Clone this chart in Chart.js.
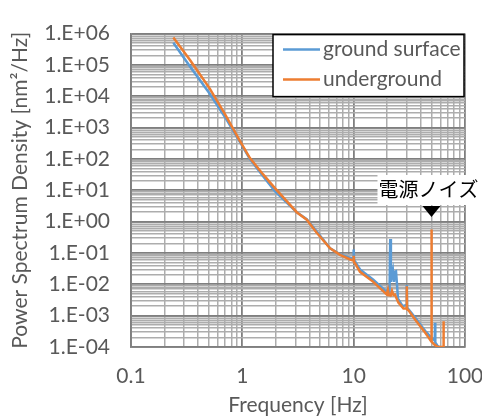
<!DOCTYPE html>
<html>
<head>
<meta charset="utf-8">
<script src="https://cdn.jsdelivr.net/npm/chart.js@4.4.1/dist/chart.umd.min.js"></script>
<style>
html,body{margin:0;padding:0;background:#ffffff;}
#wrap{width:482px;height:418px;position:relative;}
</style>
</head>
<body>
<div id="wrap"><canvas id="c" width="482" height="418"></canvas></div>
<script>
// ---- data ----
const seriesNames = ['ground surface', 'underground'];
const seriesColors = ['#5B9BD5', '#ED7D31'];

const freqGround = [0.24, 0.34, 0.51, 0.70, 0.95, 1.17, 1.53, 1.97, 3.08, 3.79, 4.66, 6.14, 7.55, 9.3, 9.9, 10.0, 10.1, 10.3, 11.4, 15.0, 19.8, 20.5, 21.0, 21.3, 21.6, 22.0, 22.5, 23.0, 23.5, 24.0, 24.5, 25.0, 26.0, 27.5, 29.8, 30.0, 30.2, 32.0, 35.6, 40.0, 43.8, 48.0, 50.0, 53.5, 53.8, 54.1, 56.5, 59.0];
const psdGround  = [5.1e5, 8.7e4, 1.2e4, 2150, 350, 100, 28.5, 9.3, 2.0, 1.2, 0.48, 0.142, 0.09, 0.07, 0.065, 0.13, 0.056, 0.054, 0.030, 0.014, 0.0057, 0.0075, 0.006, 0.28, 0.012, 0.02, 0.029, 0.012, 0.025, 0.026, 0.01, 0.0035, 0.0028, 0.002, 0.0022, 0.0095, 0.0018, 0.0014, 8.7e-4, 5.0e-4, 3.3e-4, 2.3e-4, 2.0e-4, 1.6e-4, 5.9e-4, 1.4e-4, 1.1e-4, 1.0e-4];

const freqUnder = [0.24, 0.34, 0.51, 0.70, 0.95, 1.17, 1.53, 1.97, 3.08, 3.79, 4.66, 6.14, 7.55, 9.3, 9.9, 10.0, 10.1, 10.3, 11.4, 15.0, 19.8, 20.3, 20.7, 21.5, 22.1, 22.8, 23.5, 25.2, 28.0, 29.8, 30.0, 30.2, 31.0, 35.6, 43.8, 46.6, 49.8, 50.0, 50.2, 53.0, 57.0, 63.5, 64.0, 64.5];
const psdUnder  = [7.5e5, 1.42e5, 1.75e4, 2650, 377, 107, 32.7, 11.5, 2.0, 1.15, 0.44, 0.142, 0.087, 0.062, 0.058, 0.081, 0.05, 0.047, 0.025, 0.012, 0.0048, 0.0067, 0.0045, 0.0044, 0.0062, 0.0045, 0.0047, 0.0026, 0.0017, 0.0017, 0.0087, 0.0016, 0.0015, 7.6e-4, 2.9e-4, 2.1e-4, 1.5e-4, 0.56, 1.5e-4, 1.2e-4, 1.0e-4, 1.0e-4, 6.6e-4, 1.0e-4];

const xDecades = [0.1, 1, 10, 100];
const xTickLabels = ['0.1', '1', '10', '100'];
const yDecades = [1e-4, 1e-3, 1e-2, 1e-1, 1e0, 1e1, 1e2, 1e3, 1e4, 1e5, 1e6];
const yTickLabels = ['1.E-04', '1.E-03', '1.E-02', '1.E-01', '1.E+00', '1.E+01', '1.E+02', '1.E+03', '1.E+04', '1.E+05', '1.E+06'];

const xTitle = 'Frequency [Hz]';
const yTitle = 'Power Spectrum Density [nm\u00B2/Hz]';
const annotationText = '電源ノイズ';
const annotationFreq = 50;

// ---- helpers ----
function tickValues(decades) {
  const out = [];
  for (let i = 0; i < decades.length - 1; i++) {
    for (let m = 1; m <= 9; m++) out.push(m * decades[i]);
  }
  out.push(decades[decades.length - 1]);
  return out;
}
function decadeIndex(list, v) {
  return list.findIndex(d => Math.abs(d - v) / d < 1e-6);
}
const textColor = '#595959';
const majorGrid = '#7f7f7f';
const minorGrid = '#adadad';
const latin = 'Lato';

const xTicks = tickValues(xDecades);
const yTicks = tickValues(yDecades);
const allDecades = xDecades.concat(yDecades);

const overlayPlugin = {
  id: 'overlay',
  afterDraw(chart) {
    const {ctx, chartArea, scales} = chart;
    ctx.save();
    // legend box
    const bw = 191, bh = 62;
    const bx = chartArea.right - bw - 1, by = chartArea.top + 1;
    ctx.fillStyle = '#ffffff';
    ctx.fillRect(bx, by, bw, bh);
    ctx.strokeStyle = '#000000';
    ctx.lineWidth = 1.5;
    ctx.strokeRect(bx, by, bw, bh);
    chart.data.datasets.forEach((ds, i) => {
      const y = by + 15 + i * 30;
      ctx.strokeStyle = ds.borderColor;
      ctx.lineWidth = 2.5;
      ctx.beginPath();
      ctx.moveTo(bx + 10, y);
      ctx.lineTo(bx + 47, y);
      ctx.stroke();
      ctx.fillStyle = textColor;
      ctx.font = '21px ' + latin;
      ctx.textBaseline = 'middle';
      ctx.textAlign = 'left';
      ctx.fillText(ds.label, bx + 50, y);
    });
    // annotation
    const ax = scales.x.getPixelForValue(annotationFreq);
    ctx.fillStyle = '#ffffff';
    ctx.fillRect(ax - 54, 175, 101, 30);
    ctx.fillStyle = '#000000';
    ctx.font = '20px "Noto Sans CJK JP"';
    ctx.textAlign = 'center';
    ctx.textBaseline = 'middle';
    ctx.fillText(annotationText, ax - 3, 189);
    ctx.beginPath();
    ctx.moveTo(ax - 9, 206);
    ctx.lineTo(ax + 9, 206);
    ctx.lineTo(ax, 217);
    ctx.closePath();
    ctx.fill();
    ctx.restore();
  }
};

const gridOpts = {
  drawTicks: false,
  color: c => (c.tick && decadeIndex(allDecades, c.tick.value) >= 0) ? majorGrid : minorGrid,
  lineWidth: c => (c.tick && decadeIndex(allDecades, c.tick.value) >= 0) ? 1.8 : 1.5
};

new Chart(document.getElementById('c'), {
  type: 'line',
  data: {
    datasets: [
      {
        label: seriesNames[0],
        data: freqGround.map((f, i) => ({x: f, y: psdGround[i]})),
        borderColor: seriesColors[0],
        backgroundColor: seriesColors[0],
        borderWidth: 2.5,
        pointRadius: 0,
        tension: 0,
        fill: false,
        order: 2
      },
      {
        label: seriesNames[1],
        data: freqUnder.map((f, i) => ({x: f, y: psdUnder[i]})),
        borderColor: seriesColors[1],
        backgroundColor: seriesColors[1],
        borderWidth: 2.5,
        pointRadius: 0,
        tension: 0,
        fill: false,
        order: 1
      }
    ]
  },
  options: {
    responsive: false,
    animation: false,
    devicePixelRatio: 1,
    layout: {padding: {left: 0, right: 17, top: 17, bottom: 0}},
    plugins: {legend: {display: false}, tooltip: {enabled: false}},
    scales: {
      x: {
        type: 'logarithmic',
        min: 0.1,
        max: 100,
        afterBuildTicks: s => { s.ticks = xTicks.map(v => ({value: v})); },
        afterFit: s => { s.height = 71; s.paddingRight = 0; s.paddingLeft = 0; },
        grid: gridOpts,
        border: {display: true, color: majorGrid, width: 1.8},
        ticks: {
          autoSkip: false,
          maxRotation: 0,
          padding: 17,
          color: textColor,
          font: {family: latin, size: 21},
          callback: v => { const i = decadeIndex(xDecades, v); return i >= 0 ? xTickLabels[i] : ''; }
        },
        title: {display: true, text: xTitle, color: textColor, font: {family: latin, size: 21}, padding: {top: 0, bottom: 0}}
      },
      y: {
        type: 'logarithmic',
        min: 1e-4,
        max: 1e6,
        afterBuildTicks: s => { s.ticks = yTicks.map(v => ({value: v})); },
        afterFit: s => { s.width = 131; },
        grid: gridOpts,
        border: {display: true, color: majorGrid, width: 1.8},
        ticks: {
          autoSkip: false,
          padding: 21,
          color: textColor,
          font: {family: latin, size: 21},
          callback: v => { const i = decadeIndex(yDecades, v); return i >= 0 ? yTickLabels[i] : ''; }
        },
        title: {display: true, text: yTitle, color: textColor, font: {family: latin, size: 21}, padding: {top: 8, bottom: 0}}
      }
    }
  },
  plugins: [overlayPlugin]
});
</script>
</body>
</html>
